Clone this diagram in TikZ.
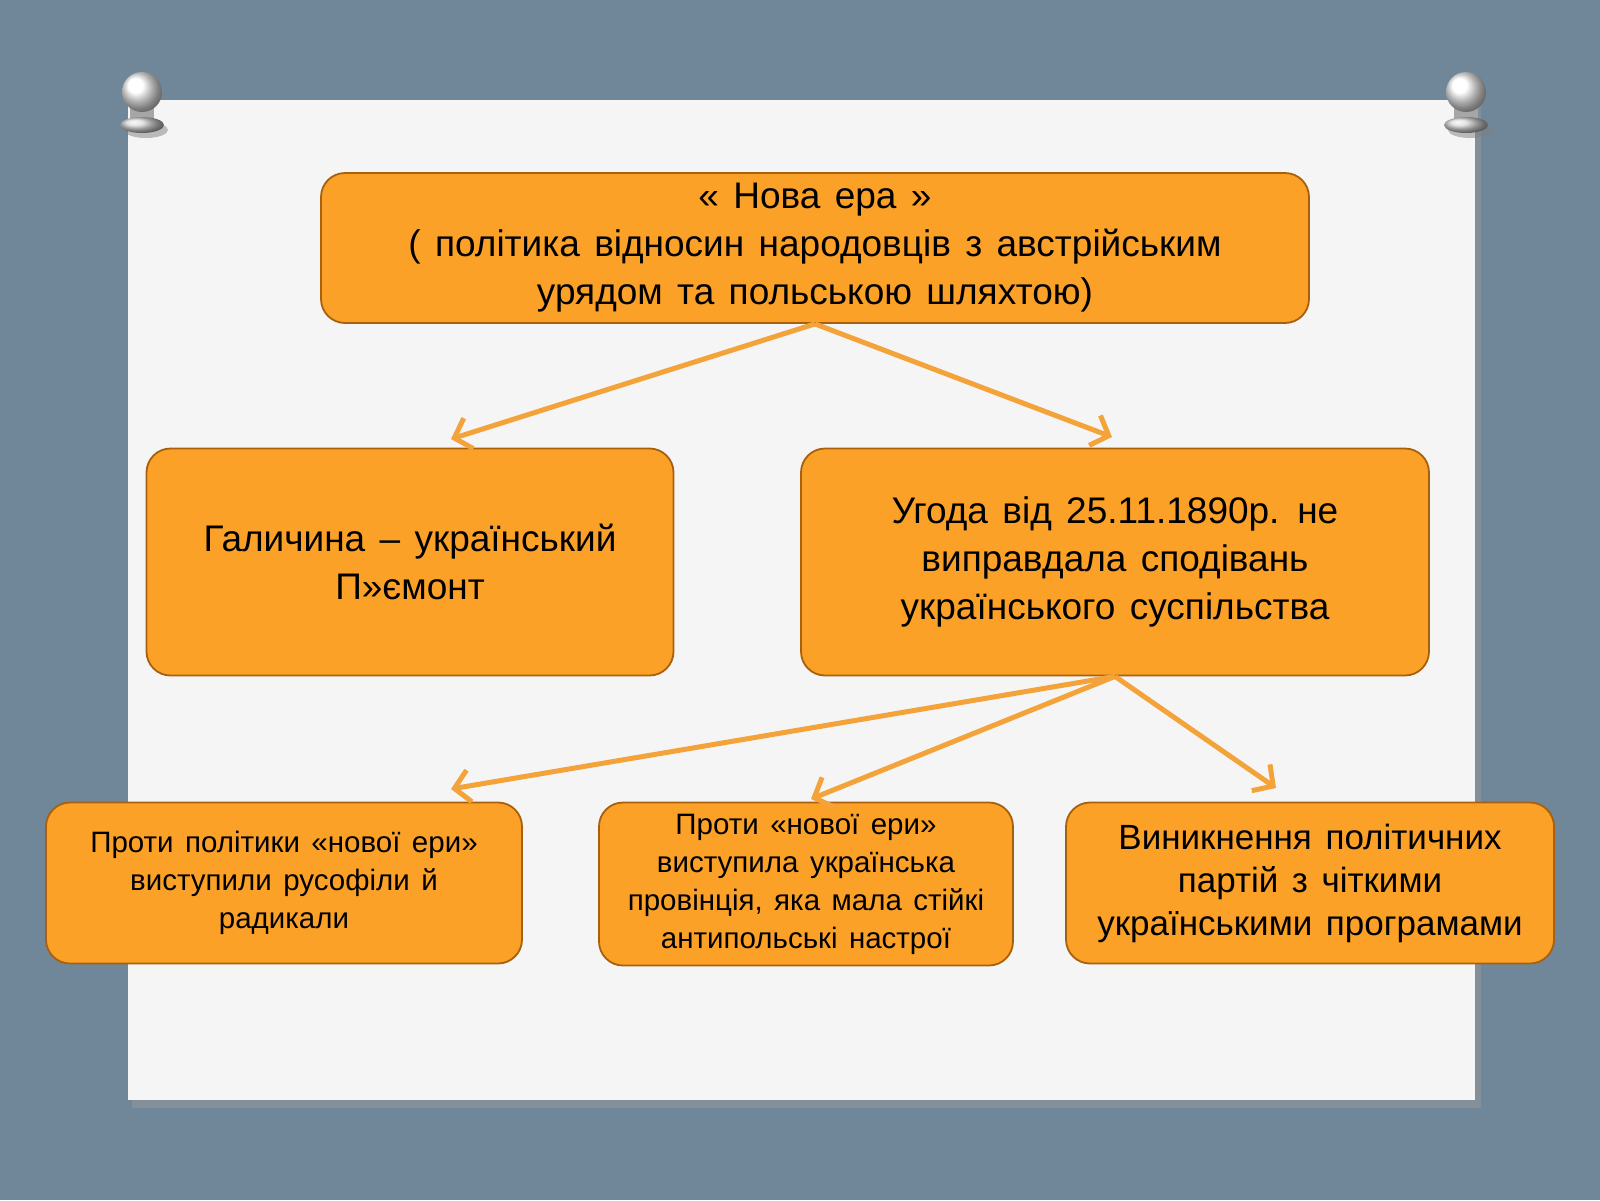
\documentclass[tikz,border=0pt]{standalone}
\usepackage{fontspec}
\setmainfont{Liberation Sans}[WordSpace={1.4}]
\usetikzlibrary{arrows.meta}
\definecolor{bg}{HTML}{6F8799}
\definecolor{boxfill}{HTML}{FCA127}
\definecolor{boxline}{HTML}{A8600C}
\definecolor{arr}{HTML}{F4A33A}
\tikzset{
 box/.style={draw=boxline, line width=1.8pt, fill=boxfill, rounded corners=24pt, align=center, text=black},
 conn/.style={draw=arr, line width=5pt, -{Straight Barb[length=15pt,width=32pt,line width=5pt]}}
}
\begin{document}
\begin{tikzpicture}[x=1pt,y=-1pt]
\useasboundingbox (0,0) rectangle (1600,1200);
\fill[bg] (0,0) rectangle (1600,1200);
\fill[black!40,opacity=0.5] (132,106) rectangle (1481,1108);
\fill[white!96!black] (128,100) rectangle (1475,1100);
% pins
\foreach \px in {142,1466}{
 \fill[black!50,opacity=0.5] (\px+4,130) ellipse (22pt and 8pt);
 \fill[gray!70] (\px-12,98) rectangle (\px+12,125);
 \shade[ball color=white] (\px,92) circle (20pt);
 \shade[ball color=gray!30] (\px,125) ellipse (22pt and 8pt);
}
\node[box, minimum width=988pt, minimum height=150pt, font=\fontsize{37}{48}\selectfont] (top) at (815,248)
 {« Нова ера »\\( політика відносин народовців з австрійським\\урядом та польською шляхтою)};
\node[box, minimum width=527pt, minimum height=227pt, font=\fontsize{37}{48}\selectfont] (m1) at (410,562)
 {Галичина – український\\П»ємонт};
\node[box, minimum width=628pt, minimum height=227pt, font=\fontsize{37}{48}\selectfont] (m2) at (1115,562)
 {Угода від 25.11.1890р. не\\виправдала сподівань\\українського суспільства};
\node[box, minimum width=476pt, minimum height=161pt, font=\fontsize{29.5}{38}\selectfont] (b1) at (284,883)
 {Проти політики «нової ери»\\виступили русофіли й\\радикали};
\node[box, minimum width=414pt, minimum height=163pt, font=\fontsize{29.5}{38}\selectfont] (b2) at (806,884)
 {Проти «нової ери»\\виступила українська\\провінція, яка мала стійкі\\антипольські настрої};
\node[box, minimum width=488pt, minimum height=161pt, font=\fontsize{35}{43}\selectfont] (b3) at (1310,883)
 {Виникнення політичних\\партій з чіткими\\українськими програмами};
\coordinate (t1) at (451,439);
\coordinate (t2) at (1112,437);
\coordinate (u1) at (451,789);
\coordinate (u2) at (811,799);
\coordinate (u3) at (1276,788);
\draw[conn] (top.south) -- (t1);
\draw[conn] (top.south) -- (t2);
\draw[conn] (m2.south) -- (u1);
\draw[conn] (m2.south) -- (u2);
\draw[conn] (m2.south) -- (u3);
\end{tikzpicture}
\end{document}
